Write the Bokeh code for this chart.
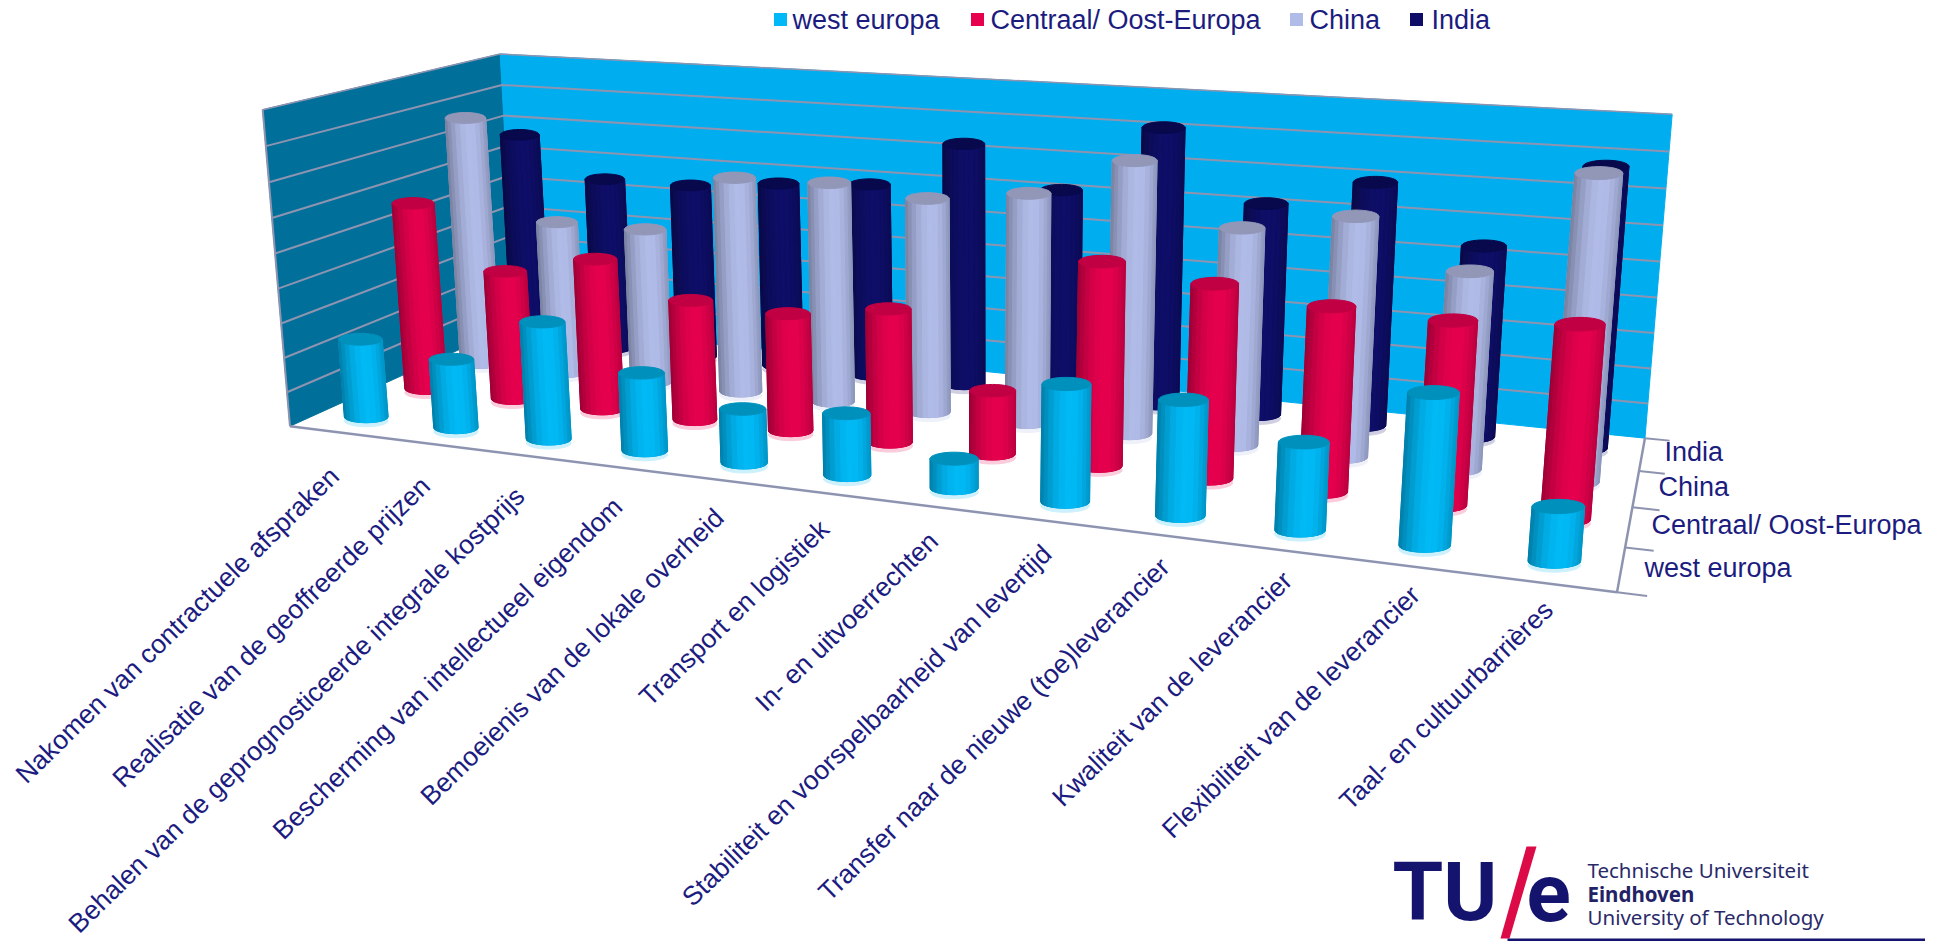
import numpy as np
from bokeh.plotting import figure
from bokeh.models import Range1d, ColumnDataSource
from bokeh.core.properties import value
from bokeh.embed import file_html
from bokeh.resources import INLINE

categories = ["Nakomen van contractuele afspraken", "Realisatie van de geoffreerde prijzen",
              "Behalen van de geprognosticeerde integrale kostprijs", "Bescherming van intellectueel eigendom",
              "Bemoeienis van de lokale overheid", "Transport en logistiek", "In- en uitvoerrechten",
              "Stabiliteit en voorspelbaarheid van levertijd", "Transfer naar de nieuwe (toe)leverancier",
              "Kwaliteit van de leverancier", "Flexibiliteit van de leverancier", "Taal- en cultuurbarrières"]
series_names = ["west europa", "Centraal/ Oost-Europa", "China", "India"]
west_europa = [2.3, 2.0, 3.35, 2.2, 1.5, 1.7, 0.8, 3.1, 3.0, 2.25, 3.8, 1.35]
centraal_oost = [5.65, 3.85, 4.45, 3.5, 3.38, 3.78, 1.78, 5.57, 5.23, 4.9, 4.8, 4.98]
china = [7.7, 4.7, 4.7, 6.45, 6.5, 6.25, 6.6, 7.7, 6.07, 6.6, 5.37, 8.13]
india = [6.7, 5.47, 5.47, 5.73, 5.9, 7.3, 6.13, 8.12, 6.15, 6.95, 5.4, 7.77]
axis_max = 9

NAVY = "#1C1C80"
GRID = "#8E94B0"
FONT = value("Liberation Sans")
base_col = ["#00B9F6", "#E6004E", "#B0BBE8", "#0E0E68"]
cap_col = ["#0090BC", "#C00042", "#9297B8", "#08084C"]

# chart frame calibration: (u, v, h) -> page pixel
cal = [((0, 0, 0), (297.5, 422)), ((1, 0, 0), (1621, 596)), ((0, 1, 0), (517, 328)), ((1, 1, 0), (1650.5, 432.5)),
       ((0, 0, 1), (264.5, 109.5)), ((0, 1, 1), (507.5, 52)), ((1, 1, 1), (1676, 115.5))]
A = []
for (u, v, h), (x, y) in cal:
    X = [u, v, h, 1]
    x, y = x / 1000, y / 1000
    A.append(X + [0, 0, 0, 0] + [-x * c for c in X])
    A.append([0, 0, 0, 0] + X + [-y * c for c in X])
M = np.linalg.svd(np.array(A, float))[2][-1].reshape(3, 4)


def P(u, v, h):
    u, v, h = np.broadcast_arrays(np.asarray(u, float), np.asarray(v, float), np.asarray(h, float))
    X = np.stack([u, v, h, np.ones_like(u)])
    r = M @ X.reshape(4, -1)
    return (r[0] / r[2] * 1000).reshape(u.shape), (r[1] / r[2] * 1000).reshape(u.shape)


def mix(c1, c2, t):
    a = [int(c1[i:i + 2], 16) for i in (1, 3, 5)]
    b = [int(c2[i:i + 2], 16) for i in (1, 3, 5)]
    return "#%02x%02x%02x" % tuple(int(round(p + (q - p) * t)) for p, q in zip(a, b))


p = figure(width=1925, height=941, x_range=Range1d(5, 1930), y_range=Range1d(941, 0),
           output_backend="svg", toolbar_location=None, min_border=0)
p.axis.visible = False
p.grid.visible = False
p.outline_line_color = None


def poly(pts, color):
    xs, ys = zip(*[P(*q) for q in pts])
    p.patch([float(a) for a in xs], [float(a) for a in ys], fill_color=color, line_color=color)


poly([(0, 0, 0), (0, 1, 0), (0, 1, 1), (0, 0, 1)], "#00709B")
poly([(0, 1, 0), (1, 1, 0), (1, 1, 1), (0, 1, 1)], "#00AEEF")

gv = np.arange(1, axis_max + 1) / axis_max
for h in gv:
    xa, ya = P([0, 0, 1], [0, 1, 1], [h, h, h])
    p.line(xa.tolist(), ya.tolist(), line_color=GRID, line_width=2 if h < 1 else 1.5)
xa, ya = P([0, 0], [0, 0], [0, 1])
p.line(xa.tolist(), ya.tolist(), line_color=GRID, line_width=2)

xa, ya = P([0, 1, 1], [0, 0, 1], [0, 0, 0])
p.line(xa.tolist(), ya.tolist(), line_color=GRID, line_width=2.5)
for k in range(5):
    xa, ya = P([1, 1.018], [k / 4, k / 4], [0, 0])
    p.line(xa.tolist(), ya.tolist(), line_color=GRID, line_width=2)

xs, ys, fc = [], [], []
data = [west_europa, centraal_oost, china, india]
th = np.linspace(0, 2 * np.pi, 37)[:-1]
fa = np.linspace(0, np.pi, 13)
for j in range(3, -1, -1):
    for i in range(12):
        val = data[j][i] / axis_max
        uc, vc = (i + .5) / 12, (j + .5) / 4
        bx0, by0 = [float(a) for a in P(uc, vc, 0)]
        tx0, ty0 = [float(a) for a in P(uc, vc, val)]
        ux, uy = P(uc, vc, 1 / axis_max)
        unit = float(np.hypot(ux - bx0, uy - by0))
        rx = 0.65 * unit
        ry = 0.27 * rx
        xs.append((bx0 + rx * np.cos(th)).tolist()); ys.append((by0 + 4 + ry * np.sin(th)).tolist())
        fc.append(mix(base_col[j], "#ffffff", .8))
        fx = -np.cos(fa); fy = np.sin(fa)
        xb = bx0 + rx * fx; yb = by0 + ry * fy
        xt = tx0 + rx * fx; yt = ty0 + ry * fy
        xs.append(xb.tolist() + xt[::-1].tolist()); ys.append(yb.tolist() + yt[::-1].tolist())
        fc.append(mix(base_col[j], "#000000", .1))
        for k in range(len(fa) - 1):
            t = (fx[k] + fx[k + 1] + 2) / 4
            f = abs(t - .62) / (.62 if t < .62 else .38)
            dark = .33 * f ** 2 if t < .62 else .2 * f ** 2
            xs.append([float(xb[k]), float(xb[k + 1]), float(xt[k + 1]), float(xt[k])])
            ys.append([float(yb[k]), float(yb[k + 1]), float(yt[k + 1]), float(yt[k])])
            fc.append(mix(base_col[j], "#000000", dark))
        xs.append((tx0 + rx * np.cos(th)).tolist()); ys.append((ty0 + ry * np.sin(th)).tolist())
        fc.append(cap_col[j])
p.patches("xs", "ys", fill_color="fc", line_color="fc", line_width=1.0,
          source=ColumnDataSource(dict(xs=xs, ys=ys, fc=fc)))

for i, name in enumerate(categories):
    x0, y0 = P((i + .5) / 12, 0, 0)
    p.text([float(x0)], [float(y0) + 40 - 18 * i / 11], text=[name], angle=np.radians(44.3),
           text_align="right", text_baseline="middle", text_color=NAVY,
           text_font=FONT, text_font_size="26.5px")

label_x = [1649, 1656, 1663, 1669]
label_y = [567.5, 524.5, 486.5, 451.5]
for nm, lx, ly in zip(series_names, label_x, label_y):
    p.text([lx], [ly], text=[nm], text_align="left", text_baseline="middle", text_color=NAVY,
           text_font=FONT, text_font_size="27px")

sq_x = [785, 982, 1301, 1421]
tx_x = [797, 995, 1314, 1436]
for nm, c, sx, tx0 in zip(series_names, base_col, sq_x, tx_x):
    p.rect([sx], [19], width=13, height=13, fill_color=c, line_color=None)
    p.text([tx0], [19], text=[nm], text_align="left", text_baseline="middle", text_color=NAVY,
           text_font=FONT, text_font_size="27px")

LOGO = "#14146E"
p.text([1397], [891], text=["TU"], text_color=LOGO, text_font=value("Roboto"),
       text_font_style="bold", text_font_size="82px", text_baseline="middle")
p.text([1531], [891], text=["e"], text_color=LOGO, text_font=value("Roboto"),
       text_font_style="bold", text_font_size="82px", text_baseline="middle")
p.patch([1531, 1541, 1514, 1505], [846, 846, 938, 938], fill_color="#DC0A46", line_color=None)
for txt, y, st in [("Technische Universiteit", 869, "normal"), ("Eindhoven", 893, "bold"),
                   ("University of Technology", 916, "normal")]:
    p.text([1592], [y], text=[txt], text_color="#222266" if st == "bold" else "#2A2A6A",
           text_font=value("Noto Sans"), text_font_style=st, text_font_size="20.5px", text_baseline="middle")
p.quad(left=[1512], right=[1930], top=[938], bottom=[941], fill_color=LOGO, line_color=None)

open("out.html", "w").write(file_html(p, INLINE))
